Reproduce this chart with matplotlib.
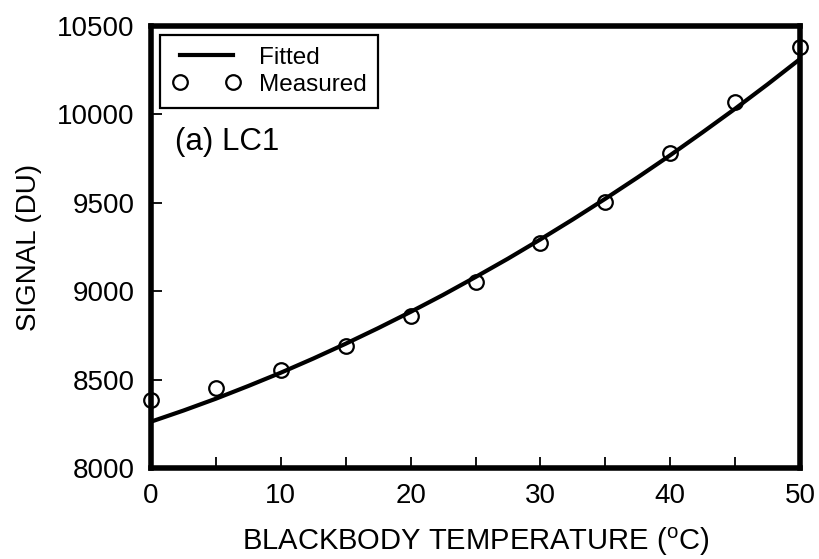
import matplotlib
matplotlib.use("Agg")
import matplotlib.pyplot as plt

plt.rcParams["font.family"] = ["Liberation Sans", "DejaVu Sans"]

# measured points
temp_measured = [0, 5, 10, 15, 20, 25, 30, 35, 40, 45, 50]
signal_measured = [8385, 8452, 8555, 8690, 8860, 9050, 9270, 9505, 9782, 10068, 10380]

# fitted curve
temp_fit = [0, 2.5, 5, 7.5, 10, 12.5, 15, 17.5, 20, 22.5, 25,
            27.5, 30, 32.5, 35, 37.5, 40, 42.5, 45, 47.5, 50]
signal_fit = [8262, 8325, 8392, 8464, 8539, 8619, 8703, 8791, 8883, 8979, 9080,
              9184, 9293, 9406, 9523, 9644, 9769, 9899, 10032, 10170, 10313]

fig = plt.figure(figsize=(8.19, 5.59), dpi=100)
ax = fig.add_axes([0.1844, 0.1628, 0.7924, 0.7907])

ax.plot(temp_fit, signal_fit, color="black", lw=3.0, label="Fitted", zorder=3)
ax.plot(temp_measured, signal_measured, ls="none", marker="o", ms=10.5,
        mfc="none", mec="black", mew=1.6, label="Measured", clip_on=False, zorder=4)

ax.set_xlim(0, 50)
ax.set_ylim(8000, 10500)
ax.set_xticks([0, 10, 20, 30, 40, 50])
ax.set_xticks([5, 15, 25, 35, 45], minor=True)
ax.set_yticks([8000, 8500, 9000, 9500, 10000, 10500])

for s in ax.spines.values():
    s.set_linewidth(4.0)
ax.tick_params(axis="both", which="both", direction="in", length=8, width=1.3,
               labelsize=20, top=False, right=False)
ax.tick_params(axis="y", pad=12)
ax.tick_params(axis="x", pad=11)

ax.set_xlabel("BLACKBODY TEMPERATURE ($^\\mathregular{o}$C)", fontsize=21, labelpad=12)
ax.set_ylabel("SIGNAL (DU)", fontsize=20, labelpad=11)

ax.text(0.037, 0.72, "(a) LC1", transform=ax.transAxes, fontsize=22.5,
        ha="left", va="baseline")

leg = ax.legend(loc="upper left", numpoints=2, fontsize=17.5, frameon=True,
                fancybox=False, borderpad=0.5, handlelength=2.8,
                handletextpad=0.75, labelspacing=0.2, borderaxespad=0,
                bbox_to_anchor=(0.014, 0.98))
leg.get_frame().set_edgecolor("black")
leg.get_frame().set_linewidth(1.6)
leg.get_frame().set_alpha(1)

fig.savefig("out.png", dpi=100)
